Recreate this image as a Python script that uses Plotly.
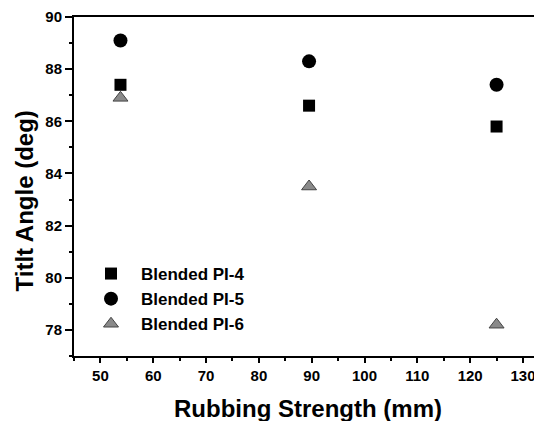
import plotly.graph_objects as go

rubbing = [53.8, 89.5, 125.0]
pi4 = [87.4, 86.6, 85.8]
pi5 = [89.1, 88.3, 87.4]
pi6 = [86.9, 83.5, 78.2]
names = ["Blended PI-4", "Blended PI-5", "Blended PI-6"]

FONT = "Liberation Sans, Arial, sans-serif"

# page body has an 8px margin: figure is sized/offset to compensate
W, H = 534, 413
L, T, B = 66, 9, 65
PW, PH = W - L, H - T - B

fig = go.Figure()
fig.add_trace(go.Scatter(x=rubbing, y=pi4, mode="markers", name=names[0],
                         marker=dict(symbol="square", size=12, color="black")))
fig.add_trace(go.Scatter(x=rubbing, y=pi5, mode="markers", name=names[1],
                         marker=dict(symbol="circle", size=14, color="black")))
fig.add_trace(go.Scatter(x=rubbing, y=pi6, mode="markers", name=names[2],
                         marker=dict(symbol="triangle-up", size=13, color="#8a8a8a",
                                     line=dict(color="#444444", width=1))))

fig.update_layout(
    width=W, height=H,
    margin=dict(l=L, r=0, t=T, b=B, pad=0),
    paper_bgcolor="white", plot_bgcolor="white",
    font=dict(family=FONT, color="black", size=15, weight="bold"),
    showlegend=True,
    legend=dict(x=(73 - L) / PW, y=(T + PH - 248) / PH, xanchor="left", yanchor="top",
                bgcolor="rgba(0,0,0,0)", itemwidth=50,
                font=dict(family=FONT, size=17, weight="bold", color="black"),
                tracegroupgap=0),
)
fig.update_xaxes(
    range=[45, 133.6], showgrid=False, zeroline=False,
    showline=True, linecolor="black", linewidth=2, mirror=True,
    ticks="outside", tickcolor="black", ticklen=5, tickwidth=2,
    tick0=50, dtick=10,
    minor=dict(ticks="outside", ticklen=3, tickwidth=1.5, tickcolor="black", dtick=5, tick0=45, showgrid=False),
    tickfont=dict(family=FONT, size=15, weight="bold"),
)
fig.update_yaxes(
    range=[77, 90], showgrid=False, zeroline=False,
    showline=True, linecolor="black", linewidth=2, mirror=False,
    ticks="outside", tickcolor="black", ticklen=7, tickwidth=2,
    tick0=78, dtick=2,
    minor=dict(ticks="outside", ticklen=3, tickwidth=1.5, tickcolor="black", dtick=1, showgrid=False),
    tickfont=dict(family=FONT, size=15, weight="bold"),
)
fig.add_annotation(text="Rubbing Strength (mm)", xref="paper", yref="paper",
                   x=0.5, y=-(400 - (T + PH)) / PH, xanchor="center", yanchor="middle",
                   showarrow=False, font=dict(family=FONT, size=24, weight="bold"))
fig.add_annotation(text="Titlt Angle (deg)", xref="paper", yref="paper",
                   x=(16 - L) / PW, y=(T + PH - 193.5) / PH, xanchor="center", yanchor="middle",
                   textangle=-90,
                   showarrow=False, font=dict(family=FONT, size=24, weight="bold"))

fig.write_html("out.html")
